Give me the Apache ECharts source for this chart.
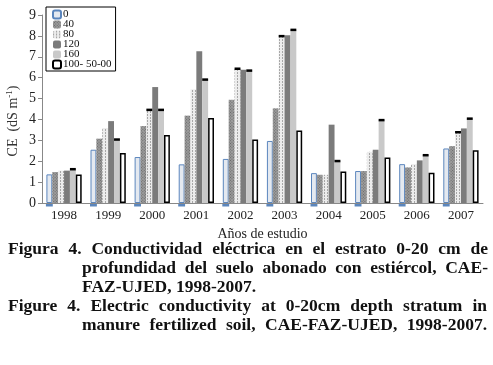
<!DOCTYPE html>
<html>
<head>
<meta charset="utf-8">
<script src="https://cdn.jsdelivr.net/npm/echarts@6/dist/echarts.min.js"></script>
<style>
  html, body { margin: 0; padding: 0; background: #fff; }
  #chart { width: 493px; height: 365px; }
</style>
</head>
<body>
<div id="chart"></div>
<script>
// años y valores de CE (dS m-1)
const years = ["1998", "1999", "2000", "2001", "2002", "2003", "2004", "2005", "2006", "2007"];
const dose0 = [1.37, 2.55, 2.2, 1.85, 2.11, 2.97, 1.43, 1.53, 1.86, 2.61];
const dose40 = [1.48, 3.08, 3.68, 4.18, 4.94, 4.53, 1.35, 1.53, 1.7, 2.72];
const dose80 = [1.55, 3.59, 4.47, 5.44, 6.44, 8.0, 1.35, 2.45, 1.86, 3.4];
const dose120 = [1.55, 3.92, 5.55, 7.26, 6.38, 8.03, 3.75, 2.55, 2.04, 3.57];
const dose160 = [1.63, 3.05, 4.47, 5.92, 6.35, 8.3, 2.02, 3.98, 2.3, 4.05];
const dose100 = [1.37, 2.39, 3.25, 4.07, 3.04, 3.47, 1.51, 2.18, 1.45, 2.53];
const seriesNames = ["0", "40", "80", "120", "160", "100- 50-00"];
const yTicks = [0, 1, 2, 3, 4, 5, 6, 7, 8, 9];

// años con tapa negra (barra de error) en la serie 80; la serie 160 la lleva en todos
const capped80 = [2, 4, 5, 9];

const captionLines = [
  "Figura 4. Conductividad eléctrica en el estrato 0-20 cm de",
  "profundidad del suelo abonado con estiércol, CAE-",
  "FAZ-UJED, 1998-2007.",
  "Figure 4. Electric conductivity at 0-20cm depth stratum in",
  "manure fertilized soil, CAE-FAZ-UJED, 1998-2007.",
];

const serif = '"Liberation Serif", "DejaVu Serif", serif';
const catGap = 0.2;

const chart = echarts.init(document.getElementById("chart"), null, { renderer: "canvas" });

// marcas pequeñas: tapas de error y las marcas azules bajo la base
const marks = [];
years.forEach((y, i) => {
  marks.push([i, dose160[i], 4, 0]);
  if (capped80.includes(i)) marks.push([i, dose80[i], 2, 0]);
  marks.push([i, 0, 0, 1]);
});

// pie de figura justificado
const measureCtx = document.createElement("canvas").getContext("2d");
const capFontSize = 17.5;
const capFont = "bold " + capFontSize + "px " + serif;
measureCtx.font = capFont;
const lineLayout = [
  { x0: 8, x1: 488, y: 249, justify: true },
  { x0: 82, x1: 488, y: 268, justify: true },
  { x0: 82, x1: 488, y: 287, justify: false },
  { x0: 8, x1: 487, y: 306, justify: true },
  { x0: 82, x1: 487, y: 325, justify: true },
];
const captionGraphics = captionLines.map((line, k) => {
  const lay = lineLayout[k];
  const words = line.split(" ");
  const widths = words.map((w) => measureCtx.measureText(w).width);
  const total = widths.reduce((a, b) => a + b, 0);
  const avail = lay.x1 - lay.x0;
  let gap = measureCtx.measureText(" ").width;
  let s = 1;
  if (lay.justify) {
    gap = (avail - total) / (words.length - 1);
  }
  const minGap = 2.5;
  if (gap < minGap) {
    gap = minGap;
    s = avail / (total + minGap * (words.length - 1));
  }
  let x = 0;
  const children = words.map((w, j) => {
    const el = {
      type: "text",
      x: x,
      y: 0,
      style: { text: w, font: capFont, fill: "#111", verticalAlign: "middle" },
    };
    x += widths[j] + gap;
    return el;
  });
  return { type: "group", x: lay.x0, y: lay.y, scaleX: s, children: children };
});

// título del eje y (con superíndice)
captionGraphics.push({
  type: "text",
  x: 13,
  y: 121,
  rotation: Math.PI / 2,
  style: {
    text: "CE  (dS m{sup|-1})",
    font: "14px " + serif,
    fill: "#333",
    align: "center",
    verticalAlign: "middle",
    rich: { sup: { font: "9px " + serif, fill: "#333", verticalAlign: "top", padding: [0, 0, 6, 0] } },
  },
});

const option = {
  animation: false,
  backgroundColor: "#fff",
  grid: { left: 42, width: 441, top: 15, height: 188 },
  legend: {
    data: seriesNames,
    orient: "vertical",
    left: 46,
    top: 7,
    borderColor: "#000",
    borderWidth: 1,
    padding: [2, 4, 1, 6],
    itemWidth: 8,
    itemHeight: 8,
    itemGap: -1,
    textStyle: { fontFamily: serif, fontSize: 11, color: "#111", padding: [0, 0, 0, -3] },
  },
  xAxis: {
    type: "category",
    data: years,
    axisLine: { lineStyle: { color: "#888", width: 1 } },
    axisTick: { show: false },
    axisLabel: { fontFamily: serif, fontSize: 13, color: "#222", margin: 6 },
    name: "Años de estudio",
    nameLocation: "middle",
    nameGap: 16,
    nameTextStyle: { fontFamily: serif, fontSize: 14, color: "#222" },
  },
  yAxis: {
    type: "value",
    min: yTicks[0],
    max: yTicks[yTicks.length - 1],
    interval: 1,
    splitLine: { show: false },
    axisLine: { show: true, lineStyle: { color: "#888", width: 1 } },
    axisTick: { show: true, length: 4, lineStyle: { color: "#888" } },
    axisLabel: { fontFamily: serif, fontSize: 14, color: "#222", margin: 6 },
  },
  series: [
    {
      name: seriesNames[0],
      type: "bar",
      data: dose0,
      barGap: "0%",
      barCategoryGap: catGap * 100 + "%",
      itemStyle: { color: "#e4e9f0", borderColor: "#5b86bd", borderWidth: 1 },
    },
    {
      name: seriesNames[1],
      type: "bar",
      data: dose40,
      barGap: "0%",
      barCategoryGap: catGap * 100 + "%",
      itemStyle: {
        color: "#9c9c9c",
        decal: {
          symbol: "rect",
          symbolSize: 1,
          color: "rgba(70,70,70,0.6)",
          dashArrayX: [1, 1],
          dashArrayY: [1, 1],
          rotation: Math.PI / 4,
        },
      },
    },
    {
      name: seriesNames[2],
      type: "bar",
      data: dose80,
      barGap: "0%",
      barCategoryGap: catGap * 100 + "%",
      itemStyle: {
        color: "#ececec",
        decal: {
          symbol: "rect",
          symbolSize: 1,
          color: "rgba(150,150,150,0.8)",
          dashArrayX: [1, 2],
          dashArrayY: [2, 1],
          rotation: 0,
        },
      },
    },
    {
      name: seriesNames[3],
      type: "bar",
      data: dose120,
      barGap: "0%",
      barCategoryGap: catGap * 100 + "%",
      itemStyle: { color: "#7b7b7b" },
    },
    {
      name: seriesNames[4],
      type: "bar",
      data: dose160,
      barGap: "0%",
      barCategoryGap: catGap * 100 + "%",
      itemStyle: { color: "#c9c9c9" },
    },
    {
      name: seriesNames[5],
      type: "bar",
      data: dose100,
      barGap: "0%",
      barCategoryGap: catGap * 100 + "%",
      itemStyle: { color: "#ffffff", borderColor: "#000", borderWidth: 1.5 },
    },
    {
      type: "custom",
      z: 5,
      silent: true,
      data: marks,
      renderItem: function (params, api) {
        const band = api.size([1, 0])[0];
        const gw = band * (1 - catGap);
        const bw = gw / 6;
        const pt = api.coord([api.value(0), api.value(1)]);
        const x = pt[0] - gw / 2 + api.value(2) * bw;
        if (api.value(3) === 0) {
          return {
            type: "rect",
            shape: { x: x, y: pt[1] - 1, width: bw, height: 2.5 },
            style: { fill: "#000" },
          };
        }
        return {
          type: "rect",
          shape: { x: x - 0.5, y: pt[1] + 1, width: bw + 1, height: 2.5 },
          style: { fill: "#5b86bd" },
        };
      },
    },
  ],
  graphic: captionGraphics,
};

chart.setOption(option);
</script>
</body>
</html>
